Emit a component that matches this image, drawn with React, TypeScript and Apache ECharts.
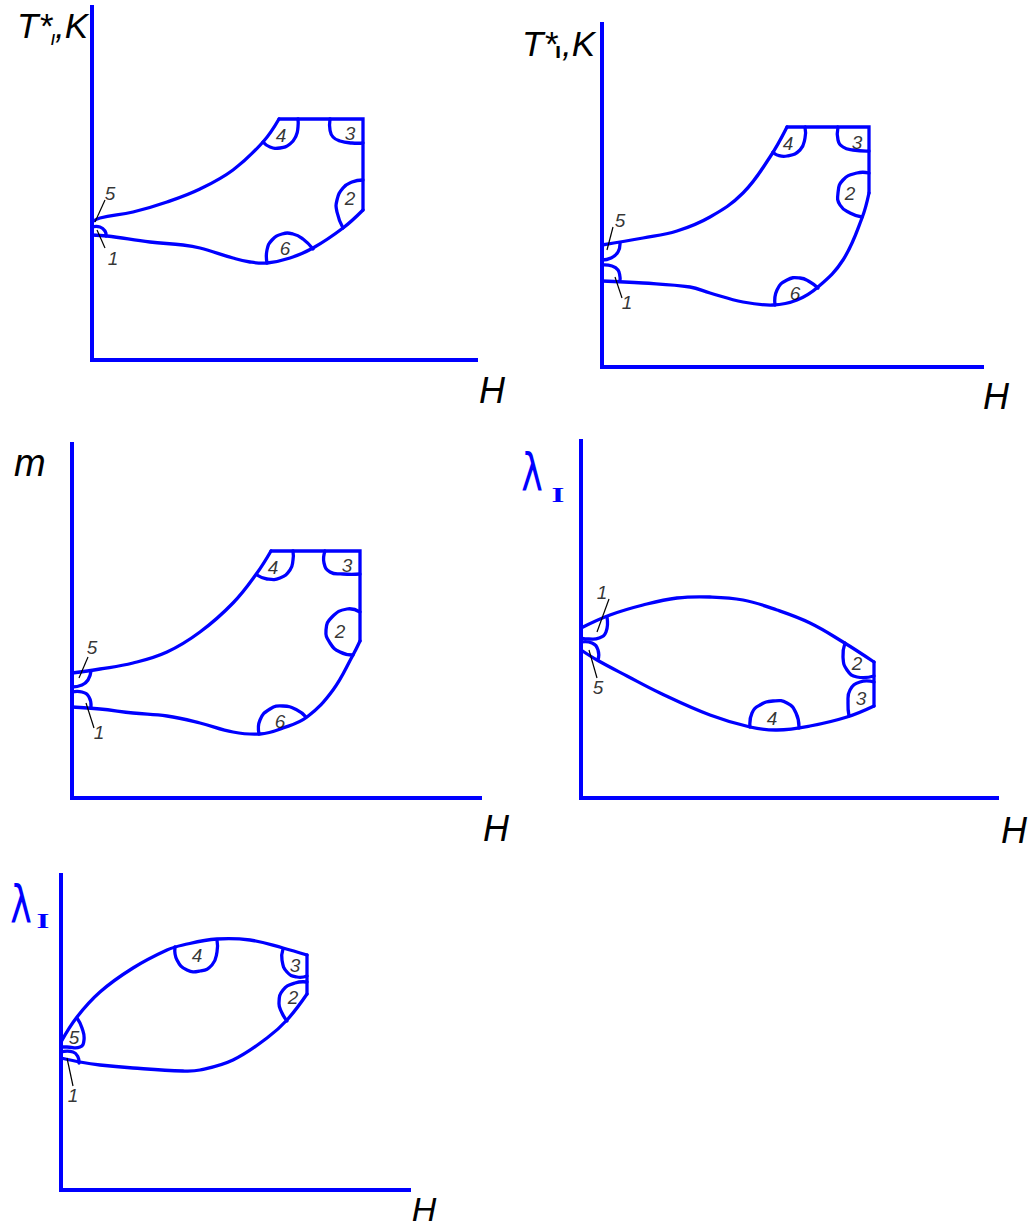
import React, { useEffect, useRef } from 'react';
import * as echarts from 'echarts';

const BLUE = '#0000ff';
const INK = '#000000';
const FONT = '"Liberation Sans", Arial, sans-serif';

// ---- panel 1 : T*ı,K vs H ----
const P1_AXIS = [384, 353];
const P1_UPPER = [[0, 138], [8, 142], [41, 148], [75, 158], [108, 171], [141, 190], [171, 218], [187, 241]];
const P1_FRAME = [[187, 241], [271, 241], [271, 150]];
const P1_LOWER = [[271, 150], [251, 132], [221, 112], [198, 102], [175, 97], [158, 98], [141, 102], [108, 112], [91, 115], [58, 118], [15, 124], [0, 125]];
const P1_ARC1 = [[0, 133], [8, 133], [13, 129], [14, 124]];
const P1_ARC4 = [[171, 218], [178, 213], [188, 212], [198, 216], [204, 224], [206, 233], [206, 241]];
const P1_ARC3 = [[238, 241], [238, 230], [241, 223], [248, 219], [260, 217], [271, 217]];
const P1_ARC2 = [[271, 180], [260, 178], [251, 172], [245, 160], [245, 148], [251, 132]];
const P1_ARC6 = [[175, 97], [175, 110], [180, 120], [190, 126], [201, 126], [211, 121], [221, 111]];
const P1_TAGS = [['1', 21, 102], ['5', 18, 167], ['4', 189, 225], ['3', 258, 227], ['2', 258, 162], ['6', 193, 112]];
const P1_LEADERS = [[[3, 138], [13, 160]], [[5, 130], [13, 112]]];

// ---- panel 2 : T*ı,K vs H ----
const P2_AXIS = [380, 343];
const P2_UPPER = [[0, 122], [41, 129], [75, 136], [108, 150], [141, 174], [168, 210], [185, 240]];
const P2_FRAME = [[185, 240], [267, 240], [267, 174]];
const P2_LOWER = [[267, 174], [260, 149], [241, 107], [216, 80], [195, 67], [171, 62], [141, 65], [108, 74], [88, 80], [41, 84], [0, 86]];
const P2_ARC4 = [[171, 215], [175, 212], [185, 211], [198, 217], [203, 229], [203, 240]];
const P2_ARC3 = [[236, 240], [236, 227], [241, 220], [251, 217], [267, 216]];
const P2_ARC2 = [[267, 194], [255, 194], [241, 187], [236, 174], [238, 162], [248, 154], [260, 150]];
const P2_ARC6 = [[173, 62], [175, 77], [185, 87], [198, 89], [208, 85], [216, 79]];
const P2_ARC5 = [[0, 107], [9, 109], [16, 115], [18, 124]];
const P2_ARC1 = [[0, 102], [10, 101], [16, 97], [18, 90], [18, 87]];
const P2_TAGS = [['5', 18, 147], ['1', 25, 65], ['4', 186, 224], ['3', 255, 225], ['2', 248, 174], ['6', 193, 74]];
const P2_LEADERS = [[[5, 117], [11, 140]], [[13, 90], [20, 69]]];

// ---- panel 3 : m vs H ----
const P3_AXIS = [408, 354];
const P3_UPPER = [[0, 125], [28, 129], [61, 135], [95, 146], [128, 166], [161, 195], [185, 225], [199, 247]];
const P3_FRAME = [[199, 247], [288, 247], [288, 157]];
const P3_LOWER = [[288, 157], [281, 143], [261, 108], [235, 81], [211, 70], [188, 64], [161, 66], [128, 75], [95, 82], [61, 85], [28, 89], [0, 91]];
const P3_ARC4 = [[185, 223], [195, 219], [208, 220], [218, 228], [221, 238], [221, 247]];
const P3_ARC3 = [[253, 247], [252, 235], [258, 226], [271, 224], [288, 224]];
const P3_ARC2 = [[288, 186], [275, 189], [260, 181], [254, 168], [258, 155], [268, 146], [281, 143]];
const P3_ARC6 = [[187, 64], [188, 78], [198, 89], [211, 92], [225, 88], [234, 81]];
const P3_ARC5 = [[0, 111], [10, 113], [16, 118], [19, 127]];
const P3_ARC1 = [[0, 106], [10, 106], [17, 101], [19, 91]];
const P3_TAGS = [['5', 20, 151], ['1', 27, 66], ['4', 201, 231], ['3', 275, 233], ['2', 268, 167], ['6', 208, 77]];
const P3_LEADERS = [[[16, 141], [7, 120]], [[14, 95], [22, 70]]];

// ---- panel 4 : λI vs H ----
const P4_AXIS = [416, 357];
const P4_UPPER = [[0, 170], [29, 183], [62, 193], [96, 200], [129, 201], [162, 198], [196, 188], [229, 175], [262, 156], [293, 136]];
const P4_FRAME = [[293, 136], [293, 92]];
const P4_LOWER = [[293, 92], [266, 81], [229, 72], [196, 68], [169, 71], [129, 83], [79, 105], [46, 122], [16, 138], [0, 148]];
const P4_ARC2 = [[264, 155], [262, 141], [266, 128], [276, 121], [293, 122]];
const P4_ARC3 = [[293, 116], [279, 116], [269, 108], [267, 95], [268, 82]];
const P4_ARC4 = [[169, 71], [171, 85], [179, 93], [192, 97], [206, 95], [215, 85], [218, 70]];
const P4_ARC1 = [[26, 181], [25, 166], [18, 160], [8, 159], [0, 160]];
const P4_ARC5 = [[0, 156], [11, 155], [17, 148], [17, 138]];
const P4_TAGS = [['1', 21, 206], ['5', 17, 111], ['2', 276, 135], ['3', 280, 100], ['4', 191, 80]];
const P4_LEADERS = [[[28, 199], [16, 166]], [[8, 148], [16, 120]]];

// ---- panel 5 : λI vs H ----
const P5_AXIS = [348, 315];
const P5_UPPER = [[0, 148], [16, 173], [39, 198], [72, 222], [106, 240], [122, 245], [156, 251], [189, 250], [222, 242], [246, 235]];
const P5_FRAME = [[246, 235], [246, 196]];
const P5_LOWER = [[246, 196], [226, 170], [206, 152], [172, 130], [139, 120], [122, 119], [72, 122], [39, 125], [19, 128], [0, 132]];
const P5_ARC4 = [[114, 243], [116, 230], [126, 220], [139, 219], [151, 225], [156, 238], [156, 250]];
const P5_ARC3 = [[222, 241], [221, 230], [226, 218], [236, 213], [246, 214]];
const P5_ARC2 = [[246, 208], [234, 207], [222, 200], [218, 187], [221, 177], [226, 169]];
const P5_ARC5 = [[16, 172], [21, 162], [23, 150], [19, 143], [6, 143], [0, 143]];
const P5_ARC1 = [[0, 138], [12, 138], [17, 133], [18, 127]];
const P5_TAGS = [['1', 12, 95], ['5', 13, 153], ['4', 136, 235], ['3', 234, 225], ['2', 232, 193]];
const P5_LEADERS = [[[6, 132], [12, 104]]];

const GRIDS = [
  { left: 92, top: 7, width: 384, height: 353 },
  { left: 602, top: 24, width: 380, height: 343 },
  { left: 72, top: 444, width: 408, height: 354 },
  { left: 581, top: 441, width: 416, height: 357 },
  { left: 61, top: 875, width: 348, height: 315 },
];

function smoothCurve(idx: number, pts: number[][], smooth: number) {
  return {
    type: 'custom', xAxisIndex: idx, yAxisIndex: idx, silent: true, data: pts, z: 3, clip: false,
    renderItem: (params: any, api: any) => {
      if (params.dataIndex !== 0) return null;
      return {
        type: 'polyline',
        shape: { points: pts.map((p) => api.coord(p)), smooth },
        style: { stroke: BLUE, lineWidth: 3.3, fill: 'none', lineCap: 'round', lineJoin: 'round' },
      };
    },
  };
}

function panelSeries(idx: number, curves: number[][][], arcs: number[][][], tags: any[], leaders: number[][][]) {
  const out: any[] = [];
  const base = { xAxisIndex: idx, yAxisIndex: idx, silent: true, symbol: 'none', animation: false };
  curves.forEach((c, k) => {
    if (k === 1) {
      out.push({
        ...base, type: 'line', data: c, smooth: false,
        lineStyle: { color: BLUE, width: 3.3, cap: 'round', join: 'miter' }, z: 3,
      });
    } else {
      out.push(smoothCurve(idx, c, 0.4));
    }
  });
  arcs.forEach((a) => out.push(smoothCurve(idx, a, 0.5)));
  leaders.forEach((l) => {
    out.push({ ...base, type: 'line', data: l, smooth: false, lineStyle: { color: INK, width: 1.2 }, z: 4 });
  });
  out.push({
    ...base, type: 'scatter', symbol: 'circle', symbolSize: 1, itemStyle: { color: 'transparent' },
    data: tags.map((t) => ({ name: t[0], value: [t[1], t[2]] })),
    label: { show: true, position: 'inside', formatter: '{b}', fontSize: 19, fontStyle: 'italic', fontFamily: FONT, color: INK },
    z: 5,
  });
  return out;
}

function txt(text: string, x: number, y: number, o: any = {}) {
  const { scaleX, ...style } = o;
  return {
    type: 'text', x, y, scaleX: scaleX ?? 1, silent: true,
    style: { text, fill: INK, fontFamily: FONT, fontStyle: 'italic', fontSize: 34, align: 'left', verticalAlign: 'middle', ...style },
  };
}

export default function App() {
  const ref = useRef<HTMLDivElement>(null);
  useEffect(() => {
    if (!ref.current) return;
    const chart = echarts.init(ref.current, null, { renderer: 'svg' });
    const axes = [P1_AXIS, P2_AXIS, P3_AXIS, P4_AXIS, P5_AXIS];
    const axisCommon = {
      type: 'value', min: 0,
      axisTick: { show: false }, axisLabel: { show: false }, splitLine: { show: false },
      axisLine: { show: true, onZero: false, lineStyle: { color: BLUE, width: 4, cap: 'square' } },
    };
    const series = [
      ...panelSeries(0, [P1_UPPER, P1_FRAME, P1_LOWER], [P1_ARC1, P1_ARC4, P1_ARC3, P1_ARC2, P1_ARC6], P1_TAGS, P1_LEADERS),
      ...panelSeries(1, [P2_UPPER, P2_FRAME, P2_LOWER], [P2_ARC1, P2_ARC5, P2_ARC4, P2_ARC3, P2_ARC2, P2_ARC6], P2_TAGS, P2_LEADERS),
      ...panelSeries(2, [P3_UPPER, P3_FRAME, P3_LOWER], [P3_ARC1, P3_ARC5, P3_ARC4, P3_ARC3, P3_ARC2, P3_ARC6], P3_TAGS, P3_LEADERS),
      ...panelSeries(3, [P4_UPPER, P4_FRAME, P4_LOWER], [P4_ARC1, P4_ARC5, P4_ARC4, P4_ARC3, P4_ARC2], P4_TAGS, P4_LEADERS),
      ...panelSeries(4, [P5_UPPER, P5_FRAME, P5_LOWER], [P5_ARC1, P5_ARC5, P5_ARC4, P5_ARC3, P5_ARC2], P5_TAGS, P5_LEADERS),
    ];
    const lam = { fill: BLUE, fontFamily: '"DejaVu Sans"', fontStyle: 'normal', fontSize: 52, align: 'center', scaleX: 0.7 };
    const sub = { fill: BLUE, fontFamily: '"Liberation Serif"', fontStyle: 'normal', fontWeight: 'bold', fontSize: 22, align: 'center', scaleX: 1.5 };
    const graphic = [
      txt('T*', 17, 25, { fontSize: 35 }),
      txt('ı', 53, 38, { fontSize: 20, align: 'center' }),
      txt(',K', 55, 25, { fontSize: 35 }),
      txt('H', 492, 390, { fontSize: 36, align: 'center' }),

      txt('T*', 522, 43, { fontSize: 35 }),
      txt('ı', 558, 50, { fontSize: 22, align: 'center', fontWeight: 'bold', fontStyle: 'normal' }),
      txt(',K', 562, 43, { fontSize: 35 }),
      txt('H', 996, 396, { fontSize: 36, align: 'center' }),

      txt('m', 14, 463, { fontSize: 38 }),
      txt('H', 496, 828, { fontSize: 36, align: 'center' }),

      txt('λ', 532, 472, lam),
      txt('I', 558, 495, sub),
      txt('H', 1014, 830, { fontSize: 36, align: 'center' }),

      txt('λ', 21, 904, lam),
      txt('I', 43, 921, sub),
      txt('H', 424, 1209, { fontSize: 34, align: 'center' }),
    ];
    chart.setOption({
      animation: false,
      backgroundColor: '#ffffff',
      grid: GRIDS.map((g) => ({ ...g, containLabel: false })),
      xAxis: axes.map((a, i) => ({ ...axisCommon, gridIndex: i, max: a[0] })),
      yAxis: axes.map((a, i) => ({ ...axisCommon, gridIndex: i, max: a[1] })),
      series,
      graphic,
    });
    return () => chart.dispose();
  }, []);
  return <div ref={ref} style={{ position: 'absolute', left: 0, top: 0, width: 1029, height: 1232 }} />;
}
